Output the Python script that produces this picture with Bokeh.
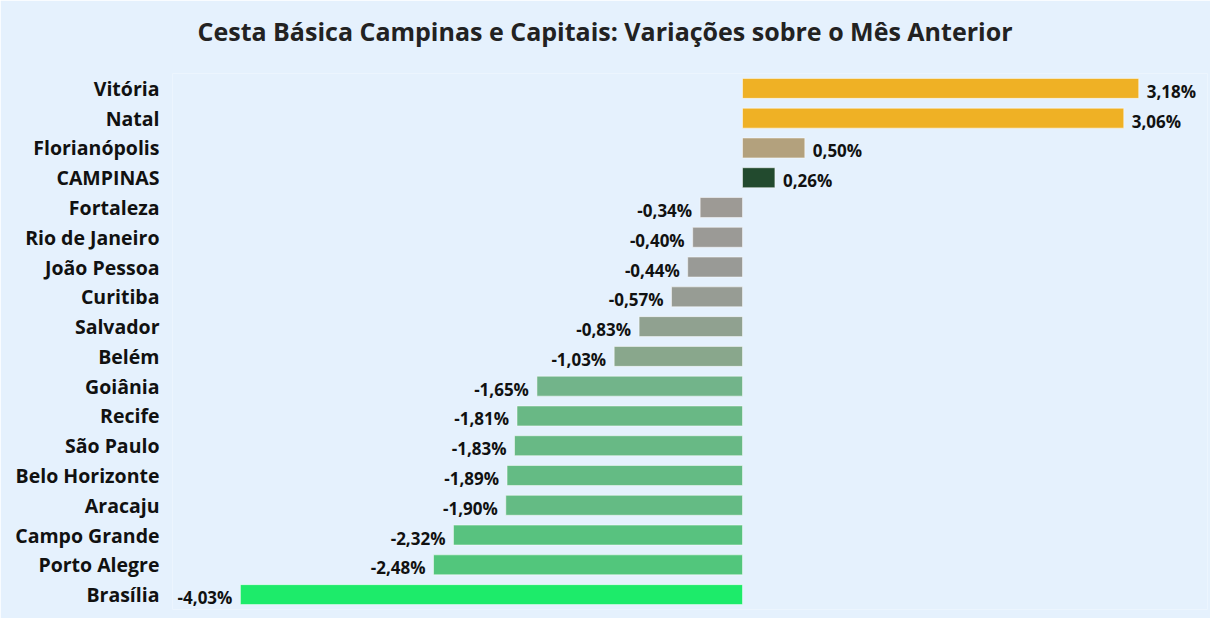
from bokeh.plotting import figure
from bokeh.models import ColumnDataSource, FactorRange, Range1d, Title
from bokeh.core.properties import value
from bokeh.embed import file_html
from bokeh.resources import INLINE

cities = ["Vitória", "Natal", "Florianópolis", "CAMPINAS", "Fortaleza", "Rio de Janeiro",
          "João Pessoa", "Curitiba", "Salvador", "Belém", "Goiânia", "Recife", "São Paulo",
          "Belo Horizonte", "Aracaju", "Campo Grande", "Porto Alegre", "Brasília"]
variations = [3.18, 3.06, 0.50, 0.26, -0.34, -0.40, -0.44, -0.57, -0.83, -1.03, -1.65,
              -1.81, -1.83, -1.89, -1.90, -2.32, -2.48, -4.03]
bar_colors = ["#EFB125", "#EFB125", "#B3A17D", "#224A2E", "#9D9A95", "#9B9A96", "#999A96",
              "#979C94", "#90A190", "#89A78C", "#72B48A", "#69B885", "#68B985", "#64BB84",
              "#64BB84", "#58C27F", "#52C67C", "#1DEB6A"]
title_text = "Cesta Básica Campinas e Capitais: Variações sobre o Mês Anterior"

labels = [("%.2f%%" % v).replace(".", ",") for v in variations]

BG = "#E5F1FD"
FONT = "Open Sans"

src = ColumnDataSource(dict(city=cities, val=variations, color=bar_colors, label=labels))
pos = ColumnDataSource(dict(city=[c for c, v in zip(cities, variations) if v >= 0],
                            val=[v for v in variations if v >= 0],
                            label=[l for l, v in zip(labels, variations) if v >= 0]))
neg = ColumnDataSource(dict(city=[c for c, v in zip(cities, variations) if v < 0],
                            val=[v for v in variations if v < 0],
                            label=[l for l, v in zip(labels, variations) if v < 0]))

p = figure(width=1210, height=618, output_backend="svg", toolbar_location=None,
           y_range=FactorRange(factors=cities[::-1], range_padding=0),
           x_range=Range1d(-4.575, 3.732),
           min_border_left=172, min_border_right=3, min_border_top=73, min_border_bottom=9)

p.background_fill_color = BG
p.border_fill_color = BG
p.outline_line_color = None
p.grid.visible = False
p.xaxis.visible = False

p.hbar(y="city", left=0, right="val", height=0.67, fill_color="color",
       line_color="white", line_alpha=0.5, line_width=1, source=src)

p.text(x="val", y="city", text="label", source=pos, x_offset=8, text_align="left",
       text_baseline="middle", text_font=value(FONT), text_font_style="bold",
       text_font_size="17px", text_color="#111111", y_offset=3)
p.text(x="val", y="city", text="label", source=neg, x_offset=-8, text_align="right",
       text_baseline="middle", text_font=value(FONT), text_font_style="bold",
       text_font_size="17px", text_color="#111111", y_offset=3)

ya = p.yaxis[0]
ya.axis_line_color = None
ya.major_tick_line_color = None
ya.minor_tick_line_color = None
ya.major_label_text_font = FONT
ya.major_label_text_font_style = "bold"
ya.major_label_text_font_size = "19.5px"
ya.major_label_text_color = "#111111"
ya.major_label_standoff = 7

spacer = Title(text=" ", text_font_size="1px", standoff=13)
p.add_layout(spacer, "above")
t = Title(text=title_text, text_font=FONT, text_font_style="bold", text_font_size="25px",
          text_color="#222222", align="left", offset=25, standoff=20)
p.add_layout(t, "above")

open("out.html", "w").write(file_html(p, INLINE))
